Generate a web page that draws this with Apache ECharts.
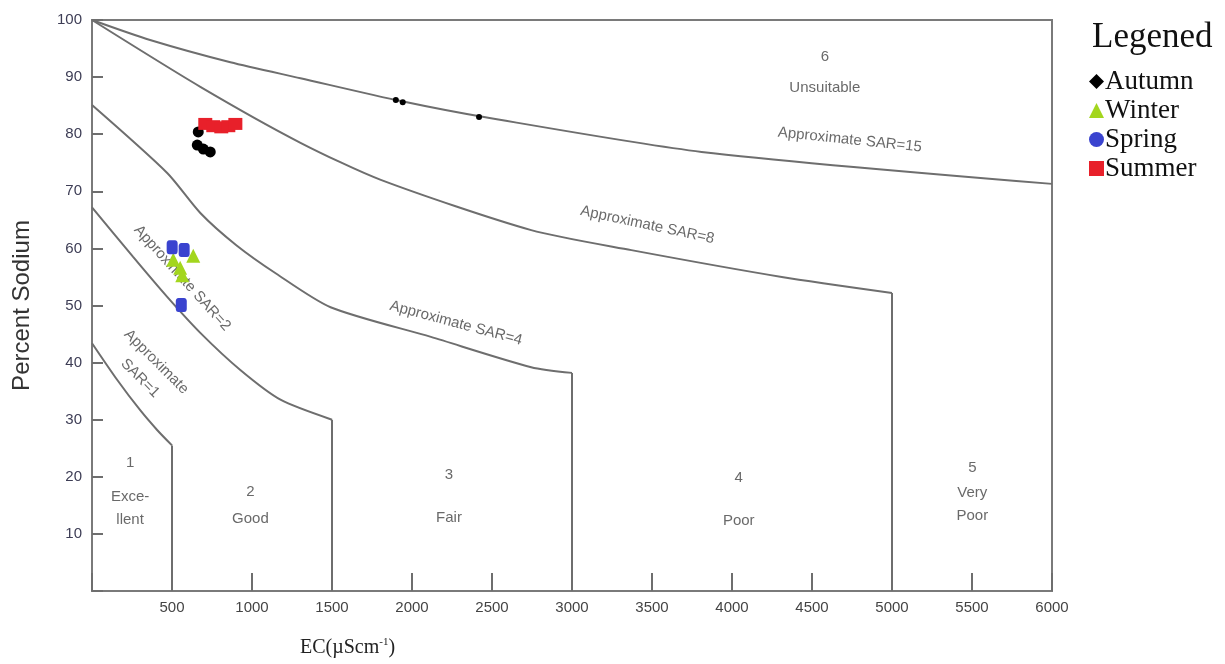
<!DOCTYPE html>
<html>
<head>
<meta charset="utf-8">
<style>
  html, body { margin: 0; padding: 0; background: #fff; }
  #main { width: 1225px; height: 664px; }
</style>
<script src="https://cdn.jsdelivr.net/npm/echarts@6/dist/echarts.min.js"></script>
</head>
<body>
<div id="main"></div>
<script>
var myChart = echarts.init(document.getElementById('main'));

// season samples: [EC, %Na]
var autumn = [[664, 80.4], [658, 78.1], [696, 77.4], [739, 76.9], [1899, 86.0], [1942, 85.6], [2419, 83.0]];
var winter = [[633, 58.7], [508, 58.0], [551, 56.6], [564, 55.3]];
var spring = [[501, 60.2], [576, 59.7], [558, 50.1]];
var summer = [[708, 81.8], [758, 81.4], [808, 81.2], [852, 81.4], [896, 81.8]];

// class boundaries (curve part, then a drop to the x axis at the last point)
var sar15 = [[0, 100], [363, 96.5], [865, 92.6], [1303, 89.8], [1930, 85.8], [2450, 83.0], [3810, 76.9], [6000, 71.3]];
var sar8 = [[0, 100], [677, 88.3], [1303, 78.5], [1805, 72.0], [2745, 63.2], [3371, 59.7], [4311, 55.0], [5000, 52.2]];
var sar4 = [[0, 85.1], [470, 73.2], [677, 66.2], [900, 60.6], [1150, 55.6], [1491, 49.7], [2118, 44.5], [2745, 39.2], [3000, 38.2]];
var sar2 = [[0, 67.2], [257, 58.5], [470, 51.5], [677, 45.2], [927, 38.7], [1178, 33.5], [1500, 30]];
var sar1 = [[0, 43.4], [157, 37], [300, 31.7], [407, 28.2], [500, 25.5]];

// class labels
var zoneText = ['1', 'Exce-\nllent', '2', 'Good', '3', 'Fair', '4', 'Poor', '5', 'Very\nPoor', '6', 'Unsuitable'];
var zonePos = [[238, 22.4], [238, 14.5], [990, 17.3], [990, 12.6], [2231, 20.3], [2231, 12.8],
               [4042, 19.8], [4042, 12.3], [5502, 21.5], [5502, 15.2], [4580, 93.5], [4580, 88.1]];
var sarText = ['Approximate SAR=15', 'Approximate SAR=8', 'Approximate SAR=4', 'Approximate SAR=2', 'Approximate\nSAR=1'];
var sarPos = [[4737, 79.0], [3471, 64.1], [2275, 46.9], [564, 54.8], [351, 38.7]];
var sarAngle = [-6, -12, -15, -48, -45];

var lineColor = '#6e6e6e';

function boundary(d, drop) {
    var out = [{
        type: 'line', data: d, showSymbol: false, silent: true, smooth: 0.25,
        lineStyle: { color: lineColor, width: 2 }, z: 2
    }];
    if (drop) {
        var last = d[d.length - 1];
        out.push({
            type: 'line', data: [last, [last[0], 0]], showSymbol: false, silent: true,
            lineStyle: { color: lineColor, width: 2 }, z: 2
        });
    }
    return out;
}

var labelData = [];
zoneText.forEach(function (t, i) {
    labelData.push({ value: zonePos[i], label: { formatter: t } });
});
sarText.forEach(function (t, i) {
    labelData.push({ value: sarPos[i], label: { formatter: t, rotate: sarAngle[i] } });
});

var series = [].concat(
    boundary(sar15, false), boundary(sar8, true), boundary(sar4, true),
    boundary(sar2, true), boundary(sar1, true)
);
series.push({
    type: 'scatter', data: labelData, symbolSize: 1, silent: true,
    itemStyle: { color: 'rgba(0,0,0,0)' },
    label: {
        show: true, position: 'inside', fontFamily: 'Liberation Sans', fontSize: 15,
        color: '#444', lineHeight: 23, align: 'center', verticalAlign: 'middle'
    },
    z: 3
});
series.push(
    {
        name: 'Autumn', type: 'scatter', data: autumn, symbol: 'circle',
        // the samples sitting on the SAR=15 line are drawn small in the original
        symbolSize: function (v) { return v[0] > 1500 ? 6 : 11; },
        itemStyle: { color: '#000', opacity: 1 }, z: 5
    },
    { name: 'Winter', type: 'scatter', data: winter, symbol: 'triangle', symbolSize: 14, itemStyle: { color: '#a3d61e', opacity: 1 }, z: 5 },
    { name: 'Spring', type: 'scatter', data: spring, symbol: 'roundRect', symbolSize: [11, 14], itemStyle: { color: '#3a43cf', opacity: 1 }, z: 5 },
    { name: 'Summer', type: 'scatter', data: summer, symbol: 'rect', symbolSize: [14, 12], itemStyle: { color: '#e8202a', opacity: 1 }, z: 5 }
);

var option = {
    animation: false,
    title: {
        text: 'Legened',
        left: 1087, top: 15,
        textStyle: { fontFamily: 'Liberation Serif', fontSize: 35, fontWeight: 'normal', color: '#111' }
    },
    legend: {
        orient: 'vertical',
        left: 1084, top: 63,
        itemWidth: 15, itemHeight: 15, itemGap: 2,
        textStyle: { fontFamily: 'Liberation Serif', fontSize: 27, color: '#111', padding: [0, 0, 0, -4] },
        data: [
            { name: 'Autumn', icon: 'diamond' },
            { name: 'Winter', icon: 'triangle' },
            { name: 'Spring', icon: 'circle' },
            { name: 'Summer', icon: 'rect' }
        ]
    },
    grid: {
        left: 92, right: 173, top: 20, bottom: 73,
        show: true, borderColor: '#7a7a7a', borderWidth: 2
    },
    xAxis: {
        type: 'value', min: 0, max: 6000, interval: 500,
        splitLine: { show: false },
        axisLine: { lineStyle: { color: '#7a7a7a', width: 2 } },
        axisTick: { inside: true, length: 18, lineStyle: { color: '#6e6e6e', width: 2 } },
        axisLabel: {
            margin: 9, fontSize: 15, color: '#444', fontFamily: 'Liberation Sans',
            formatter: function (v) { return v === 0 ? '' : v; }
        }
    },
    yAxis: {
        type: 'value', min: 0, max: 100, interval: 10,
        name: 'Percent Sodium', nameLocation: 'middle', nameGap: 58,
        nameTextStyle: { fontFamily: 'Liberation Sans', fontSize: 24, color: '#333' },
        splitLine: { show: false },
        axisLine: { lineStyle: { color: '#7a7a7a', width: 2 } },
        axisTick: { inside: true, length: 11, lineStyle: { color: '#6e6e6e', width: 2 } },
        axisLabel: {
            margin: 10, fontSize: 15, color: '#3d3d55', fontFamily: 'Liberation Sans',
            formatter: function (v) { return v === 0 ? '' : v; }
        }
    },
    graphic: [{
        type: 'text', left: 300, top: 637,
        style: {
            text: '{a|EC(µScm}{b|-1}{a|)}',
            rich: {
                a: { fontFamily: 'Liberation Serif', fontSize: 20, fill: '#222' },
                b: { fontFamily: 'Liberation Serif', fontSize: 11, fill: '#222', verticalAlign: 'top', padding: [0, 0, 10, 0] }
            }
        }
    }],
    series: series
};

myChart.setOption(option);
</script>
</body>
</html>
